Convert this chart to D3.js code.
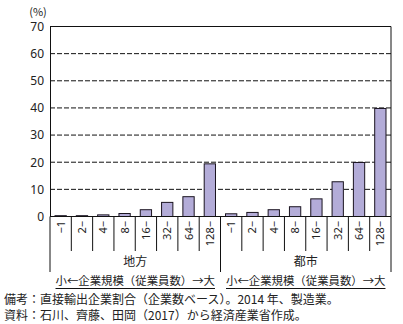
<!DOCTYPE html>
<html>
<head>
<meta charset="utf-8">
<script src="https://cdn.jsdelivr.net/npm/d3@7"></script>
<style>
  html, body { margin: 0; padding: 0; background: #fff; }
  svg { display: block; font-family: "Noto Sans CJK JP", "Noto Sans", sans-serif; }
</style>
</head>
<body>
<svg id="chart" width="403" height="324"></svg>
<script>
// Firm-size classes (number of employees)
const sizeClasses = ["−1", "2−", "4−", "8−", "16−", "32−", "64−", "128−"];
const regions = ["地方", "都市"];
// Share of direct exporters (%), by region and size class
const chihouValues = [0.3, 0.3, 0.6, 1.1, 2.5, 5.2, 7.3, 19.4];
const toshiValues = [1.0, 1.5, 2.5, 3.6, 6.5, 12.8, 19.9, 39.8];
const yTicks = [0, 10, 20, 30, 40, 50, 60, 70];
const sizeAxisLabel = "小←企業規模（従業員数）→大";
const noteLines = [
  "備考：直接輸出企業割合（企業数ベース）。2014 年、製造業。",
  "資料：石川、齊藤、田岡（2017）から経済産業省作成。"
];

const rows = [];
regions.forEach((r, ri) => {
  const vals = ri === 0 ? chihouValues : toshiValues;
  sizeClasses.forEach((c, ci) => rows.push({ key: r + "|" + c, region: r, cls: c, value: vals[ci] }));
});

const svg = d3.select("#chart");
const plotLeft = 50, plotRight = 391, plotTop = 26.5, zeroY = 216.5;

const x = d3.scaleBand().domain(rows.map(d => d.key)).range([plotLeft, plotRight]).padding(0);
const y = d3.scaleLinear().domain([0, 70]).range([zeroY, plotTop]);

// Dashed gridlines
svg.append("g").selectAll("line")
  .data(yTicks.filter(t => t > 0 && t < 70))
  .join("line")
  .attr("x1", plotLeft).attr("x2", plotRight)
  .attr("y1", d => y(d)).attr("y2", d => y(d))
  .attr("stroke", "#111").attr("stroke-width", 1)
  .attr("stroke-dasharray", "5,2");

// Bars
const bw = x.bandwidth() * 0.53;
svg.append("g").selectAll("rect")
  .data(rows)
  .join("rect")
  .attr("x", d => x(d.key) + (x.bandwidth() - bw) / 2)
  .attr("y", d => y(d.value))
  .attr("width", bw)
  .attr("height", d => y(0) - y(d.value))
  .attr("fill", "#b3acd8")
  .attr("stroke", "#1a1420")
  .attr("stroke-width", 1);

// Frame: top, right, baseline
svg.append("line").attr("x1", plotLeft).attr("x2", plotRight).attr("y1", plotTop).attr("y2", plotTop).attr("stroke", "#111");
svg.append("line").attr("x1", plotRight).attr("x2", plotRight).attr("y1", plotTop).attr("y2", zeroY).attr("stroke", "#111");
svg.append("line").attr("x1", plotLeft).attr("x2", plotRight).attr("y1", zeroY).attr("y2", zeroY).attr("stroke", "#111");

// Y axis
const yAxis = d3.axisLeft(y).tickValues(yTicks).tickSize(0).tickPadding(6);
const yg = svg.append("g").attr("transform", `translate(${plotLeft},0)`).call(yAxis);
yg.select(".domain").attr("stroke", "#111");
yg.selectAll("text").attr("font-size", 12).attr("fill", "#222").attr("font-family", "'Noto Sans', sans-serif");
svg.append("text").attr("x", 38).attr("y", 15.5).attr("text-anchor", "middle")
  .attr("font-size", 11).attr("fill", "#222").text("(%)");

// Category separators under the baseline
const sepG = svg.append("g").attr("stroke", "#111");
rows.forEach((d, i) => {
  const xx = x(d.key);
  const isGroupEdge = i % sizeClasses.length === 0;
  sepG.append("line").attr("x1", xx).attr("x2", xx).attr("y1", zeroY)
    .attr("y2", isGroupEdge ? 272 : 251);
});
sepG.append("line").attr("x1", plotRight).attr("x2", plotRight).attr("y1", zeroY).attr("y2", 272);

// Rotated size-class labels
svg.append("g").selectAll("text")
  .data(rows)
  .join("text")
  .attr("transform", d => `translate(${x(d.key) + x.bandwidth() / 2 + 4},221) rotate(-90)`)
  .attr("text-anchor", "end")
  .attr("font-size", 11)
  .attr("fill", "#222")
  .attr("font-family", "'Noto Sans', sans-serif")
  .text(d => d.cls);

// Region labels and size-direction captions
regions.forEach((r) => {
  const k0 = r + "|" + sizeClasses[0];
  const k1 = r + "|" + sizeClasses[sizeClasses.length - 1];
  const x0 = x(k0), x1 = x(k1) + x.bandwidth();
  const cx = (x0 + x1) / 2;
  svg.append("text").attr("x", cx).attr("y", 266).attr("text-anchor", "middle")
    .attr("font-size", 12).attr("fill", "#222").text(r);
  const t = svg.append("text").attr("x", cx).attr("y", 285).attr("text-anchor", "middle")
    .attr("font-size", 11.4).attr("fill", "#222").text(sizeAxisLabel);
  const bb = t.node().getBBox();
  svg.append("line").attr("x1", bb.x).attr("x2", bb.x + bb.width)
    .attr("y1", 288.5).attr("y2", 288.5).attr("stroke", "#111");
});

// Notes
svg.append("g").selectAll("text")
  .data(noteLines)
  .join("text")
  .attr("x", 4)
  .attr("y", (d, i) => 303.5 + i * 16.5)
  .attr("font-size", 12)
  .attr("fill", "#222")
  .text(d => d);
</script>
</body>
</html>
